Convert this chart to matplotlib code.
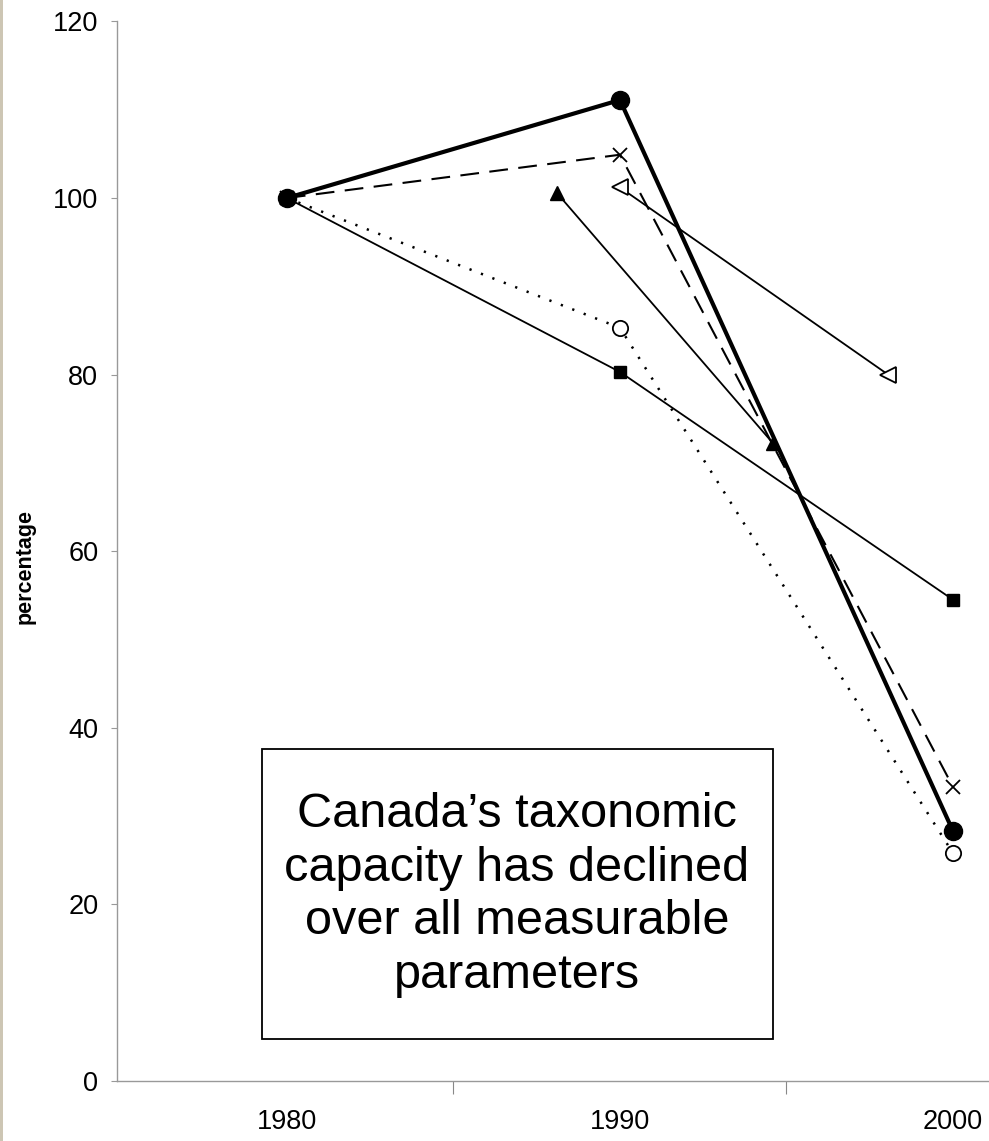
import numpy as np
import matplotlib.pyplot as plt
from matplotlib.patches import Rectangle

plt.rcParams['font.family'] = ['Liberation Sans', 'DejaVu Sans']

# series (percentage of 1980 level)
anos = [1980, 1990, 2000]
serie_circulo = [100, 111.1, 28.3]      # thick solid, filled circles
serie_x = [100, 104.9, 33.3]            # dashed, x markers
serie_aberto = [100, 85.3, 25.8]        # dotted, open circles
serie_quadrado = [100, 80.3, 54.5]      # thin solid, filled squares
anos_triangulo = [1988.1, 1994.6]
serie_triangulo = [100.6, 72.2]         # thin solid, filled triangles
anos_tri_aberto = [1990, 1998.05]
serie_tri_aberto = [101.2, 80.0]        # thin solid, open triangles

yticks = [0, 20, 40, 60, 80, 100, 120]
xticks = [1980, 1990, 2000]
xticks_menores = [1985, 1995]
texto = "Canada\u2019s taxonomic\ncapacity has declined\nover all measurable\nparameters"

fig = plt.figure(figsize=(9.89, 11.41), dpi=100)
ax = fig.add_axes([117 / 989, 60 / 1141, 872 / 989, 1059.6 / 1141])

ax.plot(anos, serie_quadrado, color='black', lw=1.3, marker='s', ms=9,
        mfc='black', mec='black', zorder=3)
ax.plot(anos_triangulo, serie_triangulo, color='black', lw=1.3, marker='^', ms=10,
        mfc='black', mec='black', zorder=3)
ax.plot(anos_tri_aberto, serie_tri_aberto, color='black', lw=1.3, marker='<', ms=11.5,
        mfc='white', mec='black', mew=1.3, zorder=3)
ax.plot(anos, serie_aberto, color='black', lw=1.8, ls=(0, (0.9, 4)), marker='o', ms=11,
        mfc='white', mec='black', mew=1.3, zorder=3)
ax.plot(anos, serie_x, color='black', lw=1.5, ls=(0, (9, 5)), marker='x', ms=10,
        mec='black', mew=1.3, zorder=4)
ax.plot(anos, serie_circulo, color='black', lw=3, marker='o', ms=13,
        mfc='black', mec='black', zorder=5)

ax.set_xlim(1974.9, 2001.08)
ax.set_ylim(0, 120)
ax.set_yticks(yticks)
ax.set_xticks(xticks)
ax.set_xticks(xticks_menores, minor=True)
ax.tick_params(axis='y', labelsize=19.5, length=4, width=0.8, color='#999999', pad=9.5)
ax.tick_params(axis='x', which='major', labelsize=19.5, length=0, pad=20)
ax.tick_params(axis='x', which='minor', length=9, width=0.8, color='#888888')

for lado in ['top', 'right']:
    ax.spines[lado].set_visible(False)
for lado in ['left', 'bottom']:
    ax.spines[lado].set_color('#999999')
    ax.spines[lado].set_linewidth(1.0)

fig.text(25 / 989, 1 - 567 / 1141, 'percentage', rotation=90, fontsize=15.5,
         fontweight='bold', ha='center', va='center')

# faixa escura na borda esquerda (digitalizacao)
fig.patches.append(Rectangle((0, 0), 3 / 989, 1, transform=fig.transFigure,
                             facecolor='#cdc6b4', edgecolor='none'))

# caixa de texto
caixa = Rectangle((262 / 989, 1 - 1039 / 1141), 511 / 989, 290 / 1141,
                  transform=fig.transFigure, fill=True, facecolor='white',
                  edgecolor='black', lw=1.3, zorder=6)
fig.patches.append(caixa)
fig.text(517 / 989, 1 - 895 / 1141, texto, fontsize=35, ha='center', va='center',
         linespacing=1.25, zorder=7)

fig.savefig('out.png', dpi=100)
